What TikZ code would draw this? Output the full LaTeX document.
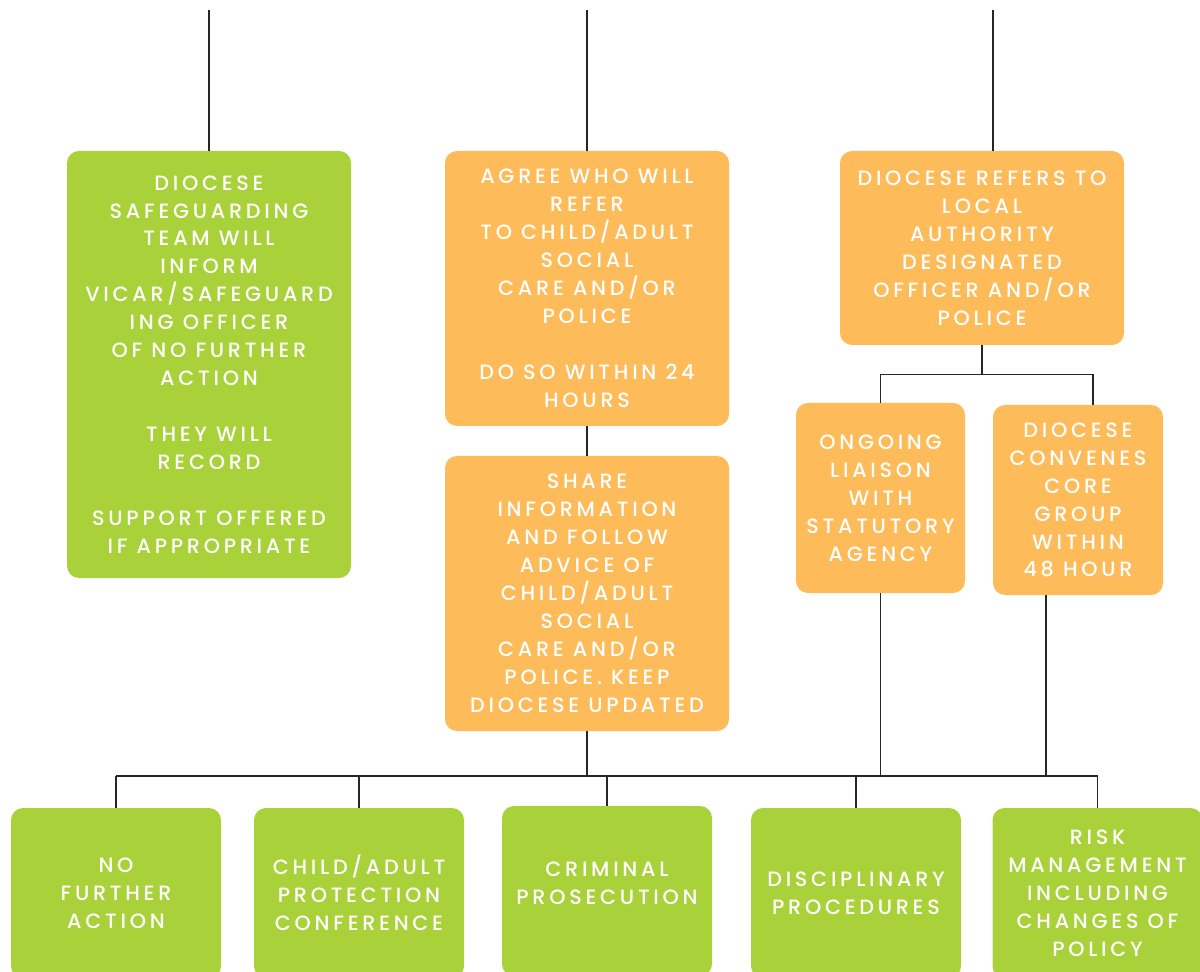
\documentclass[tikz,border=0pt]{standalone}
\usepackage{fontspec}
\setmainfont{Poppins}[LetterSpace=18, UprightFont=* Medium]
\usetikzlibrary{calc, positioning}
\definecolor{leafgreen}{RGB}{169,209,58}
\definecolor{paleorange}{RGB}{253,187,89}

\begin{document}
\begin{tikzpicture}[
  box/.style={rounded corners=0.24cm, text=white, align=center, inner sep=2pt,
    font=\fontsize{11.8}{15.9}\selectfont},
  greenbox/.style={box, fill=leafgreen},
  orangebox/.style={box, fill=paleorange},
  link/.style={line width=0.8pt, black!85}]
  \useasboundingbox (0,0) rectangle (24,19.42);
  \clip (0,0) rectangle (24,19.42);
  % upper row
  \node[greenbox, minimum width=5.68cm, minimum height=8.54cm] (teamInform) at (4.18,12.13)
    {DIOCESE\\SAFEGUARDING\\TEAM WILL\\INFORM\\VICAR/SAFEGUARD\\ING OFFICER\\OF NO FURTHER\\ACTION\\[15.9pt]
     THEY WILL\\RECORD\\[15.9pt]SUPPORT OFFERED\\IF APPROPRIATE};
  \node[orangebox, minimum width=5.68cm, minimum height=5.5cm] (agreeRefer) at (11.74,13.65)
    {AGREE WHO WILL\\REFER\\TO CHILD/ADULT\\SOCIAL\\CARE AND/OR\\POLICE\\[15.9pt]DO SO WITHIN 24\\HOURS};
  \node[orangebox, minimum width=5.68cm, minimum height=5.5cm] (shareInfo) at (11.74,7.55)
    {SHARE\\INFORMATION\\AND FOLLOW\\ADVICE OF\\CHILD/ADULT\\SOCIAL\\CARE AND/OR\\POLICE. KEEP\\DIOCESE UPDATED};
  \node[orangebox, minimum width=5.68cm, minimum height=3.88cm] (refersLA) at (19.64,14.46)
    {DIOCESE REFERS TO\\LOCAL\\AUTHORITY\\DESIGNATED\\OFFICER AND/OR\\POLICE};
  \node[orangebox, minimum width=3.38cm, minimum height=3.8cm] (liaison) at (17.61,9.46)
    {ONGOING\\LIAISON\\WITH\\STATUTORY\\AGENCY};
  \node[orangebox, minimum width=3.4cm, minimum height=3.8cm] (coreGroup) at (21.56,9.42)
    {DIOCESE\\CONVENES\\CORE\\GROUP\\WITHIN\\48 HOUR};
  % outcomes
  \node[greenbox, minimum width=4.2cm, minimum height=3.4cm] (noAction) at (2.32,1.56)
    {NO\\FURTHER\\ACTION};
  \node[greenbox, minimum width=4.2cm, minimum height=3.4cm] (protectConf) at (7.18,1.56)
    {CHILD/ADULT\\PROTECTION\\CONFERENCE};
  \node[greenbox, minimum width=4.2cm, minimum height=3.4cm, text depth=0.32cm] (prosecution) at (12.14,1.6)
    {CRIMINAL\\PROSECUTION};
  \node[greenbox, minimum width=4.2cm, minimum height=3.4cm] (discipline) at (17.12,1.56)
    {DISCIPLINARY\\PROCEDURES};
  \node[greenbox, minimum width=4.2cm, minimum height=3.4cm] (riskMgmt) at (21.95,1.56)
    {RISK\\MANAGEMENT\\INCLUDING\\CHANGES OF\\POLICY};
  % lines coming in from above
  \coordinate (topL) at (4.18,19.22);
  \coordinate (topM) at (11.74,19.22);
  \coordinate (topR) at (19.86,19.22);
  \draw[link] (topL) -- (teamInform.north);
  \draw[link] (topM) -- (agreeRefer.north);
  \draw[link] (topR) -- (topR |- refersLA.north);
  \draw[link] (agreeRefer.south) -- (shareInfo.north);
  % split under the referral
  \coordinate (laJoin) at ($(refersLA.south)+(0,-0.58)$);
  \coordinate (coreTop) at ($(coreGroup.north)+(0.3,0)$);
  \draw[link] (refersLA.south) -- (laJoin);
  \draw[link] (liaison.north) |- (laJoin) -| (coreTop);
  % bus to the outcomes
  \coordinate (busL) at (2.32,3.9);
  \coordinate (busR) at (21.95,3.9);
  \draw[link] (busL) -- (busR);
  \foreach \n in {noAction, protectConf, prosecution, discipline, riskMgmt}
    \draw[link] (\n.north) -- (\n.north |- busL);
  \draw[link] (shareInfo.south) -- (shareInfo.south |- busL);
  \draw[link] (liaison.south) -- (liaison.south |- busL);
  \coordinate (coreDrop) at ($(coreGroup.south)+(-0.64,0)$);
  \draw[link] (coreDrop) -- (coreDrop |- busL);
\end{tikzpicture}
\end{document}
